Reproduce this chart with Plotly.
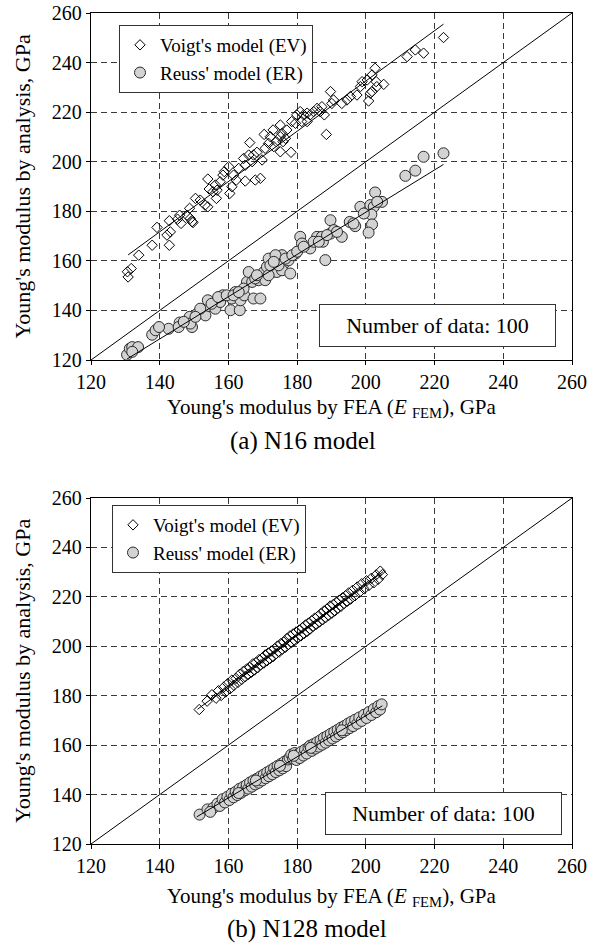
import plotly.graph_objects as go

# ---------------- (a) N16 model ----------------
ev16_fem = [130.8, 131.7, 130.6, 133.9, 137.8, 139.2, 142.8, 142.1, 142.8, 145.8,
            146.2, 148.7, 149.7, 148.9, 150.4, 154.0, 154.0, 154.4, 156.5, 156.2,
            158.4, 160.1, 161.0, 160.4, 162.3, 164.4, 164.9, 166.2, 167.3, 167.8,
            169.3, 169.8, 170.4, 171.7, 173.0, 173.2, 175.1, 175.6, 175.1, 175.9,
            176.6, 178.2, 179.5, 180.9, 181.9, 182.9, 184.8, 185.8, 187.2, 188.5,
            189.7, 190.1, 193.0, 195.5, 197.4, 198.9, 200.8, 201.8, 202.7, 201.8,
            203.0, 205.2, 212.0, 214.4, 216.8, 222.6, 145.2, 147.9, 151.8, 153.2,
            155.5, 157.6, 158.8, 161.5, 163.0, 165.9, 166.9, 168.3, 170.7, 172.2,
            173.9, 177.0, 178.4, 179.9, 181.3, 183.8, 186.7, 187.9, 190.6, 194.5,
            198.4, 200.4, 201.3, 203.2, 182.9, 164.9, 156.7, 143.1, 149.4, 175.1]
ev16_val = [153.5, 156.9, 155.6, 162.3, 166.3, 173.5, 166.3, 170.4, 176.2, 178.4,
            175.1, 181.2, 175.5, 177.1, 185.2, 193.0, 181.8, 189.0, 185.2, 190.6,
            194.6, 198.0, 189.9, 187.2, 192.6, 201.3, 192.2, 207.7, 202.7, 192.6,
            193.3, 200.7, 211.0, 207.4, 212.8, 206.1, 214.8, 211.4, 204.0, 208.1,
            209.4, 203.8, 215.5, 220.2, 218.9, 216.2, 220.2, 221.5, 222.2, 211.0,
            228.3, 223.5, 223.5, 226.3, 226.9, 232.3, 224.5, 228.3, 237.7, 235.0,
            232.3, 231.2, 242.4, 245.1, 243.8, 250.1, 176.8, 178.4, 184.5, 182.5,
            187.9, 191.9, 196.0, 194.6, 197.3, 202.7, 200.0, 203.8, 205.4, 210.1,
            208.1, 212.8, 216.2, 218.9, 216.2, 218.9, 220.2, 218.9, 224.9, 224.9,
            230.3, 233.0, 227.6, 230.3, 219.6, 198.6, 188.5, 171.7, 175.8, 210.1]

er16_fem = [130.5, 131.3, 132.0, 133.7, 137.8, 138.8, 142.6, 145.8, 145.5, 148.7,
            149.4, 148.9, 150.9, 153.3, 154.3, 154.0, 156.2, 157.6, 158.4, 160.6,
            161.0, 163.3, 162.0, 163.5, 164.6, 165.4, 165.9, 166.9, 167.3, 169.3,
            168.8, 170.3, 170.7, 171.2, 171.7, 172.7, 173.2, 174.1, 175.1, 175.6,
            176.1, 175.6, 178.0, 177.5, 179.5, 180.9, 181.4, 183.8, 185.8, 187.2,
            187.5, 189.7, 188.2, 189.7, 190.7, 193.0, 195.3, 196.9, 198.4, 200.4,
            202.7, 201.3, 202.3, 204.7, 201.6, 201.8, 200.8, 211.5, 214.4, 216.8,
            222.6, 139.8, 147.0, 151.8, 155.1, 157.0, 159.5, 161.5, 164.4, 167.8,
            171.7, 172.2, 173.7, 174.6, 176.6, 178.6, 180.0, 181.9, 184.8, 186.3,
            188.7, 191.6, 196.4, 199.4, 203.3, 173.2, 168.3, 163.0, 150.4, 132.0]
er16_val = [122.1, 124.6, 125.2, 125.2, 130.2, 132.0, 132.6, 135.1, 133.3, 137.4,
            133.3, 134.7, 138.7, 138.0, 141.8, 144.1, 140.7, 143.4, 146.1, 140.1,
            144.8, 140.1, 147.4, 144.1, 146.1, 151.5, 155.5, 151.5, 144.8, 144.8,
            152.2, 155.5, 152.2, 157.6, 160.9, 155.5, 158.9, 155.5, 160.9, 162.3,
            158.9, 156.2, 154.9, 160.2, 162.9, 169.7, 167.0, 165.0, 169.7, 169.7,
            167.7, 176.4, 160.3, 171.0, 172.4, 169.7, 175.7, 174.0, 181.8, 179.8,
            187.6, 182.5, 181.8, 183.8, 178.7, 174.7, 171.4, 194.3, 196.4, 202.0,
            203.4, 133.3, 135.4, 140.7, 142.7, 145.4, 146.1, 146.1, 148.8, 152.9,
            154.2, 158.2, 162.3, 158.2, 160.9, 162.3, 163.7, 165.7, 167.7, 167.7,
            170.4, 171.7, 175.1, 179.1, 183.8, 159.6, 154.2, 147.4, 137.4, 123.3]

# regression lines (end points) and the 1:1 reference line
ev16_fit_x = [130.8, 222.6]
ev16_fit_y = [162.4, 255.5]
er16_fit_x = [130.5, 222.6]
er16_fit_y = [120.4, 198.9]

# ---------------- (b) N128 model ----------------
ev128_fem = [151.5, 153.8, 155.2, 156.4, 157.1, 157.9, 158.6, 159.2, 159.8, 160.5,
             161.0, 161.6, 162.2, 162.8, 163.3, 163.9, 164.4, 164.9, 165.3, 165.8,
             166.2, 166.7, 167.1, 167.6, 168.0, 168.5, 168.9, 169.4, 169.8, 170.3,
             170.7, 171.2, 171.6, 172.1, 172.5, 173.0, 173.4, 173.9, 174.3, 174.8,
             175.2, 175.7, 176.1, 176.6, 177.0, 177.5, 177.9, 178.4, 178.8, 179.3,
             179.7, 180.2, 180.6, 181.1, 181.5, 182.0, 182.4, 182.9, 183.3, 183.8,
             184.2, 184.7, 185.1, 185.6, 186.0, 186.5, 186.9, 187.4, 187.8, 188.3,
             188.7, 189.2, 189.6, 190.1, 190.5, 191.0, 191.4, 191.9, 192.3, 192.8,
             193.2, 193.7, 194.1, 194.6, 195.0, 195.6, 196.2, 196.8, 197.5, 198.1,
             198.8, 199.5, 200.2, 200.9, 201.6, 202.3, 203.0, 203.6, 204.2, 204.8]
ev128_val = [174.4, 177.8, 180.4, 179.0, 182.0, 180.1, 183.4, 181.5, 184.9, 182.8,
             186.3, 184.2, 187.0, 185.4, 188.7, 186.6, 189.9, 187.7, 190.8, 188.6,
             191.4, 189.5, 192.9, 190.4, 193.4, 191.3, 194.6, 192.5, 195.2, 193.2,
             196.5, 194.1, 197.3, 195.0, 198.1, 195.8, 199.0, 197.0, 200.1, 197.7,
             201.0, 198.8, 201.7, 199.6, 203.1, 200.7, 204.2, 201.6, 205.0, 202.3,
             205.8, 203.4, 206.6, 204.2, 207.5, 205.1, 208.6, 206.0, 209.4, 207.0,
             210.3, 208.1, 211.4, 208.9, 212.1, 209.8, 213.2, 210.7, 214.3, 211.6,
             215.1, 212.5, 216.3, 213.4, 216.9, 214.3, 217.8, 215.4, 218.7, 216.2,
             219.6, 217.3, 220.5, 218.2, 221.6, 219.1, 222.7, 220.4, 224.0, 221.8,
             225.3, 223.2, 226.5, 224.6, 227.5, 225.7, 228.9, 227.1, 230.4, 229.0]

er128_fem = [151.6, 153.9, 155.6, 156.8, 157.5, 158.3, 159.0, 159.7, 160.3, 160.9,
             161.5, 162.1, 162.6, 163.2, 163.7, 164.3, 164.8, 165.3, 165.8, 166.3,
             166.8, 167.3, 167.8, 168.3, 168.8, 169.3, 169.8, 170.3, 170.8, 171.3,
             171.8, 172.3, 172.8, 173.3, 173.8, 174.3, 174.8, 175.3, 175.8, 176.3,
             176.8, 177.3, 177.8, 178.3, 178.8, 179.3, 179.8, 180.3, 180.8, 181.3,
             181.8, 182.3, 182.8, 183.3, 183.8, 184.3, 184.8, 185.3, 185.8, 186.3,
             186.8, 187.3, 187.8, 188.3, 188.8, 189.3, 189.8, 190.3, 190.8, 191.3,
             191.8, 192.3, 192.8, 193.3, 193.8, 194.3, 194.8, 195.3, 195.8, 196.3,
             196.9, 197.5, 198.1, 198.8, 199.5, 200.2, 200.9, 201.6, 202.3, 203.0,
             203.6, 204.1, 204.6, 154.7, 163.0, 168.0, 175.0, 179.0, 184.0, 193.0]
er128_val = [131.9, 134.0, 134.6, 136.3, 135.4, 138.1, 136.8, 139.1, 137.8, 140.3,
             138.9, 141.1, 139.8, 142.3, 140.7, 143.1, 141.7, 143.9, 142.4, 144.9,
             143.2, 145.7, 144.1, 146.4, 144.8, 147.3, 145.7, 148.1, 146.6, 149.0,
             147.4, 149.8, 148.2, 150.7, 149.1, 151.6, 149.8, 152.4, 150.6, 153.3,
             151.5, 154.2, 154.9, 156.2, 154.6, 156.8, 154.0, 156.3, 154.8, 157.4,
             155.8, 158.2, 156.6, 159.1, 159.8, 157.7, 160.4, 158.6, 161.2, 159.4,
             162.0, 160.2, 163.0, 161.0, 163.7, 161.9, 164.6, 162.7, 165.4, 163.5,
             166.2, 164.4, 167.1, 165.2, 167.8, 166.1, 168.7, 166.9, 169.5, 167.7,
             170.3, 168.7, 171.2, 169.8, 172.3, 171.0, 173.4, 172.2, 174.6, 173.3,
             175.8, 174.4, 176.5, 133.0, 140.6, 145.7, 151.6, 155.7, 158.9, 166.0]

ev128_fit_x = [151.0, 205.0]
ev128_fit_y = [174.5, 230.2]
er128_fit_x = [150.8, 204.8]
er128_fit_y = [131.0, 175.9]

diag = [120, 260]
ticks = [120, 140, 160, 180, 200, 220, 240, 260]

SERIF = "Liberation Serif, Times New Roman, Times, serif"
W, H = 593, 948

fig = go.Figure()


def add_panel(xa, ya, legend, ev_x, ev_y, er_x, er_y, evf_x, evf_y, erf_x, erf_y, dsize, csize):
    fig.add_trace(go.Scatter(
        x=ev_x, y=ev_y, mode="markers", name="Voigt's model (EV)",
        xaxis=xa, yaxis=ya, legend=legend,
        marker=dict(symbol="diamond-open", size=dsize, color="black",
                    line=dict(width=1, color="black"))))
    fig.add_trace(go.Scatter(
        x=er_x, y=er_y, mode="markers", name="Reuss' model (ER)",
        xaxis=xa, yaxis=ya, legend=legend,
        marker=dict(symbol="circle", size=csize, color="#d3d3d3",
                    line=dict(width=1, color="#2a2a2a"))))
    for lx, ly in ((diag, diag), (evf_x, evf_y), (erf_x, erf_y)):
        fig.add_trace(go.Scatter(
            x=lx, y=ly, mode="lines", showlegend=False, xaxis=xa, yaxis=ya,
            line=dict(color="black", width=1), hoverinfo="skip"))


add_panel("x", "y", "legend", ev16_fem, ev16_val, er16_fem, er16_val,
          ev16_fit_x, ev16_fit_y, er16_fit_x, er16_fit_y, 8, 11)
add_panel("x2", "y2", "legend2", ev128_fem, ev128_val, er128_fem, er128_val,
          ev128_fit_x, ev128_fit_y, er128_fit_x, er128_fit_y, 8, 11)

xdom = [91 / W, 572 / W]
top_dom = [1 - 360 / H, 1 - 13 / H]
bot_dom = [1 - 844 / H, 1 - 498 / H]

axis_common = dict(
    range=[120, 260], tickvals=ticks, showgrid=True, gridcolor="#3a3a3a",
    griddash="6px,4px", gridwidth=1, showline=True, linecolor="black",
    linewidth=1.3, mirror=True, ticks="outside", ticklen=4, tickcolor="black",
    zeroline=False, automargin=False,
    tickfont=dict(family=SERIF, size=20, color="black"),
)

legend_common = dict(
    xanchor="left", yanchor="top", bordercolor="#333", borderwidth=1,
    bgcolor="white", font=dict(family=SERIF, size=19, color="black"),
    itemwidth=30, tracegroupgap=0,
)

fig.update_layout(
    width=W, height=H, margin=dict(l=0, r=0, t=0, b=0),
    paper_bgcolor="white", plot_bgcolor="white",
    font=dict(family=SERIF, color="black"),
    xaxis=dict(domain=xdom, anchor="y", **axis_common),
    yaxis=dict(domain=top_dom, anchor="x", **axis_common),
    xaxis2=dict(domain=xdom, anchor="y2", **axis_common),
    yaxis2=dict(domain=bot_dom, anchor="x2", **axis_common),
    legend=dict(x=119 / W, y=1 - 25 / H, **legend_common),
    legend2=dict(x=112 / W, y=1 - 505 / H, **legend_common),
    showlegend=True,
)

xtitle = "Young's modulus by FEA (<i>E</i> <sub>FEM</sub>), GPa"
ytitle = "Young's modulus by analysis, GPa"
xc = (91 + 572) / 2 / W

annotations = [
    # axis titles
    dict(text=xtitle, x=xc, y=1 - 408 / H, font=dict(size=21)),
    dict(text=xtitle, x=xc, y=1 - 897 / H, font=dict(size=21)),
    dict(text=ytitle, x=22 / W, y=1 - 186.5 / H, textangle=-90, font=dict(size=22)),
    dict(text=ytitle, x=22 / W, y=1 - 671 / H, textangle=-90, font=dict(size=22)),
    # panel captions
    dict(text="(a) N16 model", x=303 / W, y=1 - 441 / H, font=dict(size=25)),
    dict(text="(b) N128 model", x=307 / W, y=1 - 929 / H, font=dict(size=25)),
    # sample-count boxes
    dict(text="Number of data: 100", x=437.5 / W, y=1 - 325.5 / H, font=dict(size=22),
         width=233, height=39, borderpad=1, bordercolor="#333", borderwidth=1,
         bgcolor="white"),
    dict(text="Number of data: 100", x=443.5 / W, y=1 - 813.5 / H, font=dict(size=22),
         width=233, height=39, borderpad=1, bordercolor="#333", borderwidth=1,
         bgcolor="white"),
]
for a in annotations:
    a.setdefault("xref", "paper")
    a.setdefault("yref", "paper")
    a.setdefault("showarrow", False)
    a.setdefault("xanchor", "center")
    a.setdefault("yanchor", "middle")
    a["font"] = dict(family=SERIF, color="black", **a["font"])
fig.update_layout(annotations=annotations)

fig.write_html("out.html")
